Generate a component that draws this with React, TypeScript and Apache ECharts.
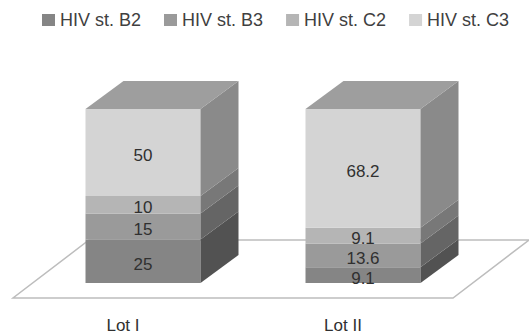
import React, { useEffect, useRef } from "react";
import * as echarts from "echarts";

const categories = ["Lot I", "Lot II"];
const seriesNames = ["HIV st. B2", "HIV st. B3", "HIV st. C2", "HIV st. C3"];
const valuesB2 = [25, 9.1];
const valuesB3 = [15, 13.6];
const valuesC2 = [10, 9.1];
const valuesC3 = [50, 68.2];

const frontColors = ["#858585", "#9a9a9a", "#b5b5b5", "#d4d4d4"];
const sideColors = ["#525252", "#656565", "#787878", "#8a8a8a"];
const topColor = "#9e9e9e";
const FONT = "Liberation Sans";
const HALF = 57.5;
const DX = 38;
const DY = 28;

export default function App() {
  const ref = useRef<HTMLDivElement>(null);
  useEffect(() => {
    if (!ref.current) return;
    const chart = echarts.init(ref.current, undefined, { renderer: "svg" });
    const allValues = [valuesB2, valuesB3, valuesC2, valuesC3];

    const sideData: number[][] = [];
    categories.forEach((_, j) => {
      let base = 0;
      allValues.forEach((vals, i) => {
        sideData.push([j, base, base + vals[j], i]);
        base += vals[j];
      });
    });

    const barSeries = allValues.map((vals, i) => ({
      name: seriesNames[i],
      type: "bar",
      stack: "total",
      barWidth: HALF * 2,
      z: 3,
      itemStyle: { color: frontColors[i] },
      label: {
        show: true,
        position: "inside",
        offset: [0, 3],
        color: "#303030",
        fontFamily: FONT,
        fontSize: 17,
      },
      data: vals,
    }));

    chart.setOption({
      animation: false,
      legend: {
        data: seriesNames,
        left: 37,
        top: 6,
        itemWidth: 13,
        itemHeight: 12,
        itemGap: 23,
        icon: "rect",
        textStyle: { color: "#404040", fontFamily: FONT, fontSize: 18 },
      },
      grid: { left: 33, right: 56, top: 109, bottom: 53 },
      xAxis: {
        type: "category",
        data: categories,
        axisLine: { show: false },
        axisTick: { show: false },
        axisLabel: {
          margin: 34,
          color: "#303030",
          fontFamily: FONT,
          fontSize: 17,
          padding: [0, 40, 0, 0],
        },
      },
      yAxis: {
        type: "value",
        min: 0,
        max: 100,
        show: false,
        splitLine: { show: false },
      },
      series: [
        {
          type: "custom",
          name: "floor",
          z: 0,
          silent: true,
          clip: false,
          data: [[0]],
          renderItem: (params: any) => {
            const cs = params.coordSys;
            const fy = cs.y + cs.height + 15;
            const fx0 = cs.x - 20;
            const fx1 = cs.x + cs.width - 20;
            return {
              type: "polygon",
              shape: {
                points: [
                  [fx0, fy],
                  [fx1, fy],
                  [fx1 + 76, fy - 58],
                  [fx0 + 76, fy - 58],
                ],
              },
              style: { fill: "#ffffff", stroke: "#bdbdbd", lineWidth: 1.5 },
            };
          },
        },
        ...barSeries,
        {
          type: "custom",
          name: "sides",
          z: 4,
          silent: true,
          clip: false,
          encode: { x: 0, y: [1, 2] },
          data: sideData,
          renderItem: (params: any, api: any) => {
            const cat = api.value(0);
            const lo = api.value(1);
            const hi = api.value(2);
            const si = api.value(3);
            const p0 = api.coord([cat, lo]);
            const p1 = api.coord([cat, hi]);
            const rx = p0[0] + HALF;
            const lx = p0[0] - HALF;
            const children: any[] = [
              {
                type: "polygon",
                shape: {
                  points: [
                    [rx, p0[1]],
                    [rx + DX, p0[1] - DY],
                    [rx + DX, p1[1] - DY],
                    [rx, p1[1]],
                  ],
                },
                style: { fill: sideColors[si] },
              },
            ];
            if (si === 3) {
              children.push({
                type: "polygon",
                shape: {
                  points: [
                    [lx, p1[1]],
                    [rx, p1[1]],
                    [rx + DX, p1[1] - DY],
                    [lx + DX, p1[1] - DY],
                  ],
                },
                style: { fill: topColor },
              });
            }
            return { type: "group", children };
          },
        },
      ],
    });
    return () => chart.dispose();
  }, []);
  return (
    <div
      ref={ref}
      style={{ position: "absolute", left: 0, top: 0, width: 529, height: 336 }}
    />
  );
}
